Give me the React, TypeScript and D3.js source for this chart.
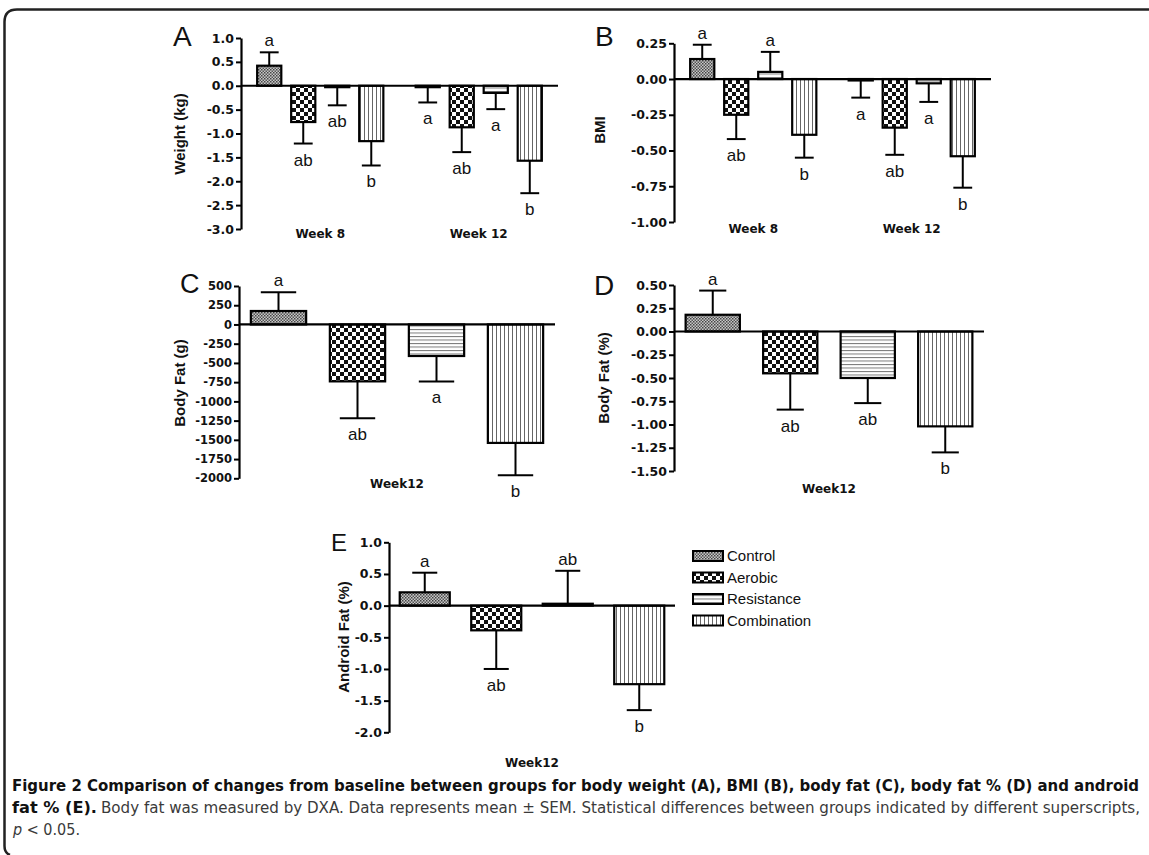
import React, { useEffect, useRef } from "react";
import * as d3 from "d3";

const groups = ["Control", "Aerobic", "Resistance", "Combination"];
const weeksAB = ["Week 8", "Week 12"];
const weeksOne = ["Week12"];

// A: weight change (kg)
const weightW8 = [0.42, -0.76, -0.03, -1.16];
const weightW8Sem = [0.28, 0.45, 0.38, 0.51];
const weightW8Sig = ["a", "ab", "ab", "b"];
const weightW12 = [-0.03, -0.87, -0.15, -1.57];
const weightW12Sem = [0.32, 0.52, 0.34, 0.68];
const weightW12Sig = ["a", "ab", "a", "b"];
const weightTicks = [1.0, 0.5, 0.0, -0.5, -1.0, -1.5, -2.0, -2.5, -3.0];

// B: BMI change
const bmiW8 = [0.14, -0.25, 0.05, -0.39];
const bmiW8Sem = [0.1, 0.17, 0.14, 0.16];
const bmiW8Sig = ["a", "ab", "a", "b"];
const bmiW12 = [-0.01, -0.34, -0.03, -0.54];
const bmiW12Sem = [0.12, 0.19, 0.13, 0.22];
const bmiW12Sig = ["a", "ab", "a", "b"];
const bmiTicks = [0.25, 0.0, -0.25, -0.5, -0.75, -1.0];

// C: body fat (g)
const fatG = [175, -740, -410, -1540];
const fatGSem = [245, 480, 330, 420];
const fatGSig = ["a", "ab", "a", "b"];
const fatGTicks = [500, 250, 0, -250, -500, -750, -1000, -1250, -1500, -1750, -2000];

// D: body fat (%)
const fatPct = [0.18, -0.45, -0.5, -1.02];
const fatPctSem = [0.26, 0.39, 0.27, 0.28];
const fatPctSig = ["a", "ab", "ab", "b"];
const fatPctTicks = [0.5, 0.25, 0.0, -0.25, -0.5, -0.75, -1.0, -1.25, -1.5];

// E: android fat (%)
const android = [0.21, -0.39, 0.03, -1.24];
const androidSem = [0.31, 0.61, 0.52, 0.41];
const androidSig = ["a", "ab", "ab", "b"];
const androidTicks = [1.0, 0.5, 0.0, -0.5, -1.0, -1.5, -2.0];

const patternIds = ["pCtrl", "pAero", "pResi", "pComb"];

const panels = [
  {
    title: "A", tx: 173, ty: 46, tsize: 28,
    yLabel: "Weight (kg)", lx: 180, ly: 134,
    left: 241, right: 558, top: 38, bottom: 229,
    ticks: weightTicks, fmt: ".1f", tickSize: 12.5,
    weeks: weeksAB, weekY: 238,
    series: [
      { mean: weightW8, sem: weightW8Sem, sig: weightW8Sig },
      { mean: weightW12, sem: weightW12Sem, sig: weightW12Sig },
    ],
    padIn: 0.29, padOut: 0.475, cap: 0.78,
  },
  {
    title: "B", tx: 595, ty: 46, tsize: 28,
    yLabel: "BMI", lx: 600, ly: 130,
    left: 674, right: 991, top: 43.3, bottom: 222,
    ticks: bmiTicks, fmt: ".2f", tickSize: 12.5,
    weeks: weeksAB, weekY: 233,
    series: [
      { mean: bmiW8, sem: bmiW8Sem, sig: bmiW8Sig },
      { mean: bmiW12, sem: bmiW12Sem, sig: bmiW12Sig },
    ],
    padIn: 0.29, padOut: 0.475, cap: 0.78,
  },
  {
    title: "C", tx: 180, ty: 293, tsize: 27,
    yLabel: "Body Fat (g)", lx: 180, ly: 383,
    left: 239, right: 555, top: 286, bottom: 478.3,
    ticks: fatGTicks, fmt: "d", tickSize: 11.5,
    weeks: weeksOne, weekY: 488,
    series: [{ mean: fatG, sem: fatGSem, sig: fatGSig }],
    padIn: 0.3, padOut: 0.15, cap: 0.64,
  },
  {
    title: "D", tx: 594, ty: 295, tsize: 28,
    yLabel: "Body Fat (%)", lx: 604, ly: 378,
    left: 674, right: 984, top: 285, bottom: 471,
    ticks: fatPctTicks, fmt: ".2f", tickSize: 12.5,
    weeks: weeksOne, weekY: 493,
    series: [{ mean: fatPct, sem: fatPctSem, sig: fatPctSig }],
    padIn: 0.3, padOut: 0.15, cap: 0.5,
  },
  {
    title: "E", tx: 331, ty: 551, tsize: 24,
    yLabel: "Android Fat (%)", lx: 344, ly: 637,
    left: 389, right: 675, top: 542.3, bottom: 732.3,
    ticks: androidTicks, fmt: ".1f", tickSize: 12.5,
    weeks: weeksOne, weekY: 767,
    series: [{ mean: android, sem: androidSem, sig: androidSig }],
    padIn: 0.3, padOut: 0.15, cap: 0.5,
  },
];

const legendX = 693;
const legendY = [556, 577.5, 599, 620.5];

function drawPanel(svg, p) {
  const g = svg.append("g");
  const y = d3
    .scaleLinear()
    .domain([p.ticks[0], p.ticks[p.ticks.length - 1]])
    .range([p.top, p.bottom]);
  const x0 = d3.scaleBand().domain(p.weeks).range([p.left, p.right]).padding(0);
  const x1 = d3
    .scaleBand()
    .domain(groups)
    .range([0, x0.bandwidth()])
    .paddingInner(p.padIn)
    .paddingOuter(p.padOut);
  const f = d3.format(p.fmt);

  // y axis
  const ax = g
    .append("g")
    .attr("transform", `translate(${p.left},0)`)
    .call(
      d3
        .axisLeft(y)
        .tickValues(p.ticks)
        .tickSize(5)
        .tickSizeOuter(0)
        .tickPadding(2)
        .tickFormat((d) => f(d).replace("\u2212", "-"))
    );
  ax.select(".domain").attr("stroke", "#000").attr("stroke-width", 2.2);
  ax.selectAll(".tick line").attr("stroke", "#000").attr("stroke-width", 2);
  ax.selectAll(".tick text")
    .attr("fill", "#111")
    .attr("font-family", "'DejaVu Sans', sans-serif")
    .attr("font-weight", "bold")
    .attr("font-size", p.tickSize);

  // bars, error bars, letters
  p.weeks.forEach((w, wi) => {
    const s = p.series[wi];
    const gx = x0(w);
    const bw = x1.bandwidth();
    groups.forEach((grp, i) => {
      const m = s.mean[i];
      const e = s.sem[i];
      const bx = gx + x1(grp);
      const cx = bx + bw / 2;
      const end = m >= 0 ? m + e : m - e;
      // error line
      g.append("line")
        .attr("x1", cx).attr("x2", cx)
        .attr("y1", y(m)).attr("y2", y(end))
        .attr("stroke", "#000").attr("stroke-width", 2);
      g.append("line")
        .attr("x1", cx - (bw * p.cap) / 2).attr("x2", cx + (bw * p.cap) / 2)
        .attr("y1", y(end)).attr("y2", y(end))
        .attr("stroke", "#000").attr("stroke-width", 2);
      g.append("rect")
        .attr("x", bx)
        .attr("y", Math.min(y(m), y(0)))
        .attr("width", bw)
        .attr("height", Math.abs(y(m) - y(0)))
        .attr("fill", `url(#${patternIds[i]})`)
        .attr("stroke", "#000")
        .attr("stroke-width", 2.2);
      g.append("text")
        .attr("x", cx)
        .attr("y", m >= 0 ? y(end) - 6 : y(end) + 22)
        .attr("text-anchor", "middle")
        .attr("font-family", "'Liberation Sans', Arial, sans-serif")
        .attr("font-size", 17)
        .attr("fill", "#111")
        .text(s.sig[i]);
    });
    g.append("text")
      .attr("x", gx + x0.bandwidth() / 2)
      .attr("y", p.weekY)
      .attr("text-anchor", "middle")
      .attr("font-family", "'DejaVu Sans', sans-serif")
      .attr("font-weight", "bold")
      .attr("font-size", 12)
      .attr("fill", "#111")
      .text(w);
  });

  // zero line
  g.append("line")
    .attr("x1", p.left).attr("x2", p.right)
    .attr("y1", y(0)).attr("y2", y(0))
    .attr("stroke", "#000").attr("stroke-width", 2.2);

  // y label
  g.append("text")
    .attr("transform", `translate(${p.lx},${p.ly}) rotate(-90)`)
    .attr("dy", "0.35em")
    .attr("text-anchor", "middle")
    .attr("font-family", "'Liberation Sans', Arial, sans-serif")
    .attr("font-weight", "bold")
    .attr("font-size", 15)
    .attr("fill", "#111")
    .text(p.yLabel);

  // panel letter
  g.append("text")
    .attr("x", p.tx)
    .attr("y", p.ty)
    .attr("font-family", "'Liberation Sans', Arial, sans-serif")
    .attr("font-size", p.tsize)
    .attr("fill", "#111")
    .text(p.title);
}

export default function App() {
  const ref = useRef(null);

  useEffect(() => {
    const svg = d3.select(ref.current);
    svg.selectAll("*").remove();

    const defs = svg.append("defs");
    const ctrl = defs.append("pattern").attr("id", "pCtrl")
      .attr("patternUnits", "userSpaceOnUse").attr("width", 3).attr("height", 3);
    ctrl.append("rect").attr("width", 3).attr("height", 3).attr("fill", "#c8c8c8");
    ctrl.append("rect").attr("width", 1.5).attr("height", 1.5).attr("fill", "#444");
    ctrl.append("rect").attr("x", 1.5).attr("y", 1.5).attr("width", 1.5).attr("height", 1.5).attr("fill", "#555");

    const aero = defs.append("pattern").attr("id", "pAero")
      .attr("patternUnits", "userSpaceOnUse").attr("width", 8).attr("height", 8);
    aero.append("rect").attr("width", 8).attr("height", 8).attr("fill", "#fff");
    aero.append("rect").attr("width", 4).attr("height", 4).attr("fill", "#111");
    aero.append("rect").attr("x", 4).attr("y", 4).attr("width", 4).attr("height", 4).attr("fill", "#111");

    const resi = defs.append("pattern").attr("id", "pResi")
      .attr("patternUnits", "userSpaceOnUse").attr("width", 4).attr("height", 3.5);
    resi.append("rect").attr("width", 4).attr("height", 3.5).attr("fill", "#fff");
    resi.append("rect").attr("width", 4).attr("height", 1).attr("fill", "#777");

    const comb = defs.append("pattern").attr("id", "pComb")
      .attr("patternUnits", "userSpaceOnUse").attr("width", 4).attr("height", 4);
    comb.append("rect").attr("width", 4).attr("height", 4).attr("fill", "#fff");
    comb.append("rect").attr("width", 1).attr("height", 4).attr("fill", "#666");

    // frame
    svg.append("path")
      .attr("d", "M1149,9.5 H17 Q4.5,9.5 4.5,22 V846 Q4.5,853 10,855")
      .attr("fill", "none")
      .attr("stroke", "#222")
      .attr("stroke-width", 2.5);

    panels.forEach((p) => drawPanel(svg, p));

    // legend
    groups.forEach((grp, i) => {
      svg.append("rect")
        .attr("x", legendX)
        .attr("y", legendY[i] - 5)
        .attr("width", 30)
        .attr("height", 10)
        .attr("fill", `url(#${patternIds[i]})`)
        .attr("stroke", "#000")
        .attr("stroke-width", 2);
      svg.append("text")
        .attr("x", legendX + 34)
        .attr("y", legendY[i])
        .attr("dy", "0.35em")
        .attr("font-family", "'Liberation Sans', Arial, sans-serif")
        .attr("font-size", 15)
        .attr("fill", "#111")
        .text(grp);
    });

    // caption
    const cap = svg.append("g")
      .attr("font-family", "'Liberation Sans Narrow', 'DejaVu Sans Condensed', 'Liberation Sans', sans-serif")
      .attr("font-size", 16);
    cap.append("text")
      .attr("x", 12).attr("y", 791)
      .attr("font-weight", "bold").attr("fill", "#111")
      .attr("textLength", 1127).attr("lengthAdjust", "spacingAndGlyphs")
      .text("Figure 2 Comparison of changes from baseline between groups for body weight (A), BMI (B), body fat (C), body fat % (D) and android");
    cap.append("text")
      .attr("x", 12).attr("y", 813)
      .attr("font-weight", "bold").attr("fill", "#111")
      .attr("textLength", 85).attr("lengthAdjust", "spacingAndGlyphs")
      .text("fat % (E).");
    cap.append("text")
      .attr("x", 101).attr("y", 813)
      .attr("fill", "#3a3a3a")
      .attr("textLength", 1039).attr("lengthAdjust", "spacingAndGlyphs")
      .text("Body fat was measured by DXA. Data represents mean \u00b1 SEM. Statistical differences between groups indicated by different superscripts,");
    const l3 = cap.append("text")
      .attr("x", 13).attr("y", 835)
      .attr("fill", "#3a3a3a");
    l3.append("tspan").attr("font-style", "italic").text("p");
    l3.append("tspan").text(" < 0.05.");
  }, []);

  return (
    <svg
      ref={ref}
      width={1149}
      height={855}
      style={{ position: "absolute", left: 0, top: 0, background: "#fff" }}
    />
  );
}
